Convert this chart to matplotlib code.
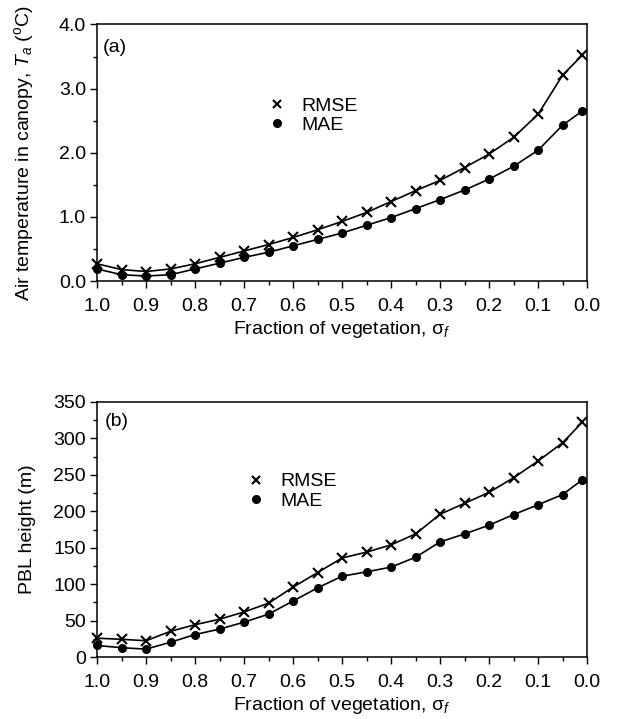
import matplotlib
matplotlib.use("Agg")
import matplotlib.pyplot as plt
from matplotlib.lines import Line2D
from matplotlib.ticker import MultipleLocator, FormatStrFormatter

plt.rcParams['font.family'] = ['Liberation Sans', 'DejaVu Sans']
plt.rcParams['mathtext.fontset'] = 'custom'
plt.rcParams['mathtext.rm'] = 'Liberation Sans'
plt.rcParams['mathtext.it'] = 'Liberation Sans:italic'
plt.rcParams['font.size'] = 14

FS = 14

# Fraction of vegetation (decreasing from full cover to bare soil)
sigma_f = [1.0, 0.95, 0.9, 0.85, 0.8, 0.75, 0.7, 0.65, 0.6, 0.55, 0.5,
           0.45, 0.4, 0.35, 0.3, 0.25, 0.2, 0.15, 0.1, 0.05, 0.01]

# (a) canopy air temperature errors (deg C)
ta_rmse = [0.27, 0.18, 0.15, 0.19, 0.27, 0.37, 0.47, 0.57, 0.68, 0.80, 0.93,
           1.07, 1.24, 1.41, 1.57, 1.77, 1.98, 2.24, 2.60, 3.21, 3.52]
ta_mae = [0.19, 0.10, 0.08, 0.10, 0.19, 0.28, 0.37, 0.45, 0.55, 0.65, 0.75,
          0.87, 0.99, 1.13, 1.27, 1.42, 1.59, 1.79, 2.04, 2.43, 2.65]

# (b) PBL height errors (m)
pbl_rmse = [26, 24.5, 22.5, 35.5, 44.5, 52, 62, 74, 96, 116, 136,
            144, 154, 169, 196, 211, 226, 246, 269, 294, 322]
pbl_mae = [16, 13, 11, 20.5, 31, 38.5, 48, 59, 77, 95, 111,
           117, 123.5, 137, 158, 169, 181, 195.5, 209, 223, 243]

xlabel = "Fraction of vegetation, \u03c3$_{f}$"

fig = plt.figure(figsize=(6.18, 7.19), dpi=100)
ax1 = fig.add_axes([0.157, 0.609, 0.793, 0.357])
ax2 = fig.add_axes([0.157, 0.086, 0.793, 0.355])


def style_axis(ax, ymax, ymajor, yminor, yfmt):
    ax.set_xlim(1.0, 0.0)
    ax.set_ylim(0, ymax)
    ax.xaxis.set_major_locator(MultipleLocator(0.1))
    ax.xaxis.set_minor_locator(MultipleLocator(0.05))
    ax.xaxis.set_major_formatter(FormatStrFormatter('%.1f'))
    ax.yaxis.set_major_locator(MultipleLocator(ymajor))
    ax.yaxis.set_minor_locator(MultipleLocator(yminor))
    ax.yaxis.set_major_formatter(FormatStrFormatter(yfmt))
    ax.tick_params(which='both', direction='out', top=False, right=False,
                   width=1.0, labelsize=FS)
    ax.tick_params(which='major', length=5)
    ax.tick_params(which='minor', length=3)
    ax.tick_params(axis='x', which='major', pad=7)
    ax.tick_params(axis='y', which='major', pad=3)
    for sp in ax.spines.values():
        sp.set_linewidth(1.1)
    ax.set_xlabel(xlabel, fontsize=FS, labelpad=3)
    ax.yaxis.set_label_coords(-0.125, 0.5)


def draw(ax, rmse, mae):
    ax.plot(sigma_f, rmse, color='black', lw=1.2, marker='x', ms=6.5,
            mew=1.5, clip_on=False, zorder=3)
    ax.plot(sigma_f, mae, color='black', lw=1.2, marker='o', ms=5.5,
            clip_on=False, zorder=3)


draw(ax1, ta_rmse, ta_mae)
ax1.set_ylabel("Air temperature in canopy, $T_a$ (${}^{\\mathrm{o}}$C)",
               fontsize=FS)
style_axis(ax1, 4.0, 1.0, 0.5, '%.1f')
ax1.text(0.012, 0.91, "(a)", transform=ax1.transAxes, fontsize=FS,
         ha='left', va='center')

draw(ax2, pbl_rmse, pbl_mae)
ax2.set_ylabel("PBL height (m)", fontsize=FS)
style_axis(ax2, 350, 50, 25, '%d')
ax2.text(0.016, 0.923, "(b)", transform=ax2.transAxes, fontsize=FS,
         ha='left', va='center')

handles = [Line2D([], [], color='black', ls='none', marker='x', ms=6, mew=1.5),
           Line2D([], [], color='black', ls='none', marker='o', ms=5.5)]
labels = ["RMSE", "MAE"]
for ax, (lx, ly) in ((ax1, (0.347, 0.717)), (ax2, (0.305, 0.722))):
    ax.legend(handles, labels, loc='upper left', bbox_to_anchor=(lx, ly),
              frameon=False, handlelength=1.0, handletextpad=0.75,
              labelspacing=0.1, borderpad=0, borderaxespad=0, fontsize=FS)

fig.savefig("out.png", dpi=100)
